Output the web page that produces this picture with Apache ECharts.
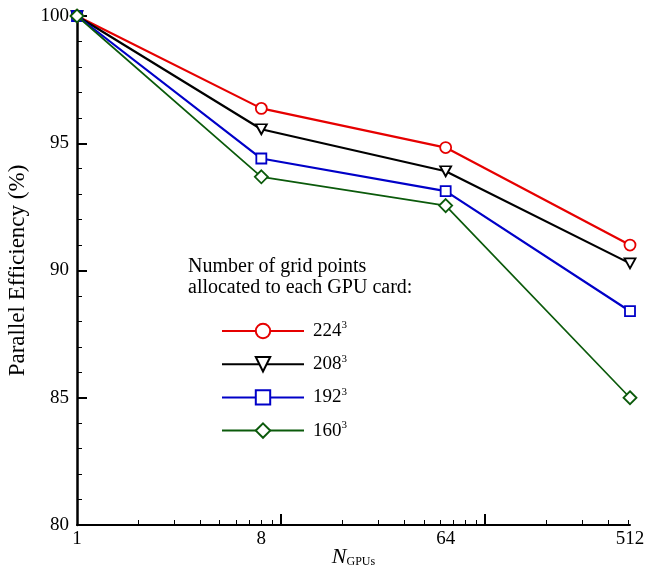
<!DOCTYPE html>
<html>
<head>
<meta charset="utf-8">
<script src="https://cdn.jsdelivr.net/npm/echarts@6/dist/echarts.min.js"></script>
<style>html,body{margin:0;padding:0;background:#fff;}#c{width:660px;height:576px;}</style>
</head>
<body>
<div id="c"></div>
<script>
var nGPUs = [1, 8, 64, 512];
var xLabelValues = [1, 8, 64, 512];
var xMajorTicks = [10, 100];
var xMinorTicks = [2, 3, 4, 5, 6, 7, 8, 9, 20, 30, 40, 50, 60, 70, 80, 90, 200, 300, 400, 500];
var seriesNames = ['224', '208', '192', '160'];
var eff224 = [100, 96.37, 94.83, 91.0];
var eff208 = [100, 95.55, 93.9, 90.28];
var eff192 = [100, 94.4, 93.12, 88.4];
var eff160 = [100, 93.68, 92.55, 85.0];

var FONT = '"Liberation Serif", "Times New Roman", serif';
var colors = ['#e60000', '#000000', '#0000c8', '#0b5a0b'];
var symbols = ['circle', 'path://M0,0 L10,0 L5,9 Z', 'rect', 'diamond'];
var sizes = [11, [11, 10], 10, 13];
var allData = [eff224, eff208, eff192, eff160];

function pairs(xs, ys) { return xs.map(function (x, i) { return [x, ys[i]]; }); }

var series = allData.map(function (d, i) {
  return {
    name: seriesNames[i],
    type: 'line',
    xAxisIndex: 0,
    data: pairs(nGPUs, d),
    symbol: symbols[i],
    symbolSize: sizes[i],
    showAllSymbol: true,
    lineStyle: { color: colors[i], width: i === 3 ? 1.7 : 2.2 },
    itemStyle: { color: '#ffffff', borderColor: colors[i], borderWidth: 1.8 },
    emphasis: { disabled: true },
    animation: false,
    z: 2 + i
  };
});

var chart = echarts.init(document.getElementById('c'), null, { renderer: 'canvas' });
chart.setOption({
  animation: false,
  backgroundColor: '#ffffff',
  grid: { left: 77, right: 30, top: 16, bottom: 51, containLabel: false, outerBoundsMode: 'none' },
  xAxis: [{
    type: 'log', logBase: 10, min: 1, max: 512,
    position: 'bottom',
    name: '{n|N}{s|GPUs}',
    nameLocation: 'middle', nameGap: 21, nameMoveOverlap: false,
    nameTextStyle: {
      fontFamily: FONT, color: '#000',
      rich: {
        n: { fontFamily: FONT, fontSize: 22, fontStyle: 'italic', color: '#000' },
        s: { fontFamily: FONT, fontSize: 12, color: '#000', padding: [10, 0, 0, 0] }
      }
    },
    axisLine: { show: true, lineStyle: { color: '#000', width: 2 } },
    axisTick: { show: true, inside: true, length: 11, customValues: xMajorTicks, lineStyle: { color: '#000', width: 2 } },
    axisLabel: { show: true, customValues: xLabelValues, fontFamily: FONT, fontSize: 19, color: '#000', margin: 5 },
    minorTick: { show: false },
    splitLine: { show: false }
  }, {
    type: 'log', logBase: 10, min: 1, max: 512,
    position: 'bottom',
    axisLine: { show: false },
    axisTick: { show: true, inside: true, length: 5, customValues: xMinorTicks, lineStyle: { color: '#000', width: 1 } },
    axisLabel: { show: false },
    splitLine: { show: false }
  }],
  yAxis: {
    type: 'value', min: 80, max: 100, interval: 5,
    name: 'Parallel Efficiency (%)',
    nameLocation: 'middle', nameGap: 43,
    nameTextStyle: { fontFamily: FONT, fontSize: 23, color: '#000' },
    axisLine: { show: true, lineStyle: { color: '#000', width: 2.5 } },
    axisTick: { show: true, inside: true, length: 10, lineStyle: { color: '#000', width: 2 } },
    minorTick: { show: true, splitNumber: 5, length: 5, lineStyle: { color: '#000', width: 1 } },
    axisLabel: { fontFamily: FONT, fontSize: 19, color: '#000', margin: 8 },
    splitLine: { show: false }
  },
  legend: {
    orient: 'vertical',
    left: 216, top: 315,
    itemWidth: 82, itemHeight: 18, itemGap: 12.7,
    data: seriesNames,
    formatter: function (n) { return n + '{sup|3}'; },
    textStyle: {
      fontFamily: FONT, fontSize: 19, color: '#000', padding: [0, 0, 0, 4],
      rich: { sup: { fontFamily: FONT, fontSize: 11, color: '#000', padding: [0, 0, 11, 0] } }
    },
    selectedMode: false
  },
  graphic: [{
    type: 'text', left: 188, top: 256,
    style: {
      text: 'Number of grid points\nallocated to each GPU card:',
      font: '20px ' + FONT, fill: '#000', lineHeight: 21
    }
  }],
  series: series
});
</script>
</body>
</html>
